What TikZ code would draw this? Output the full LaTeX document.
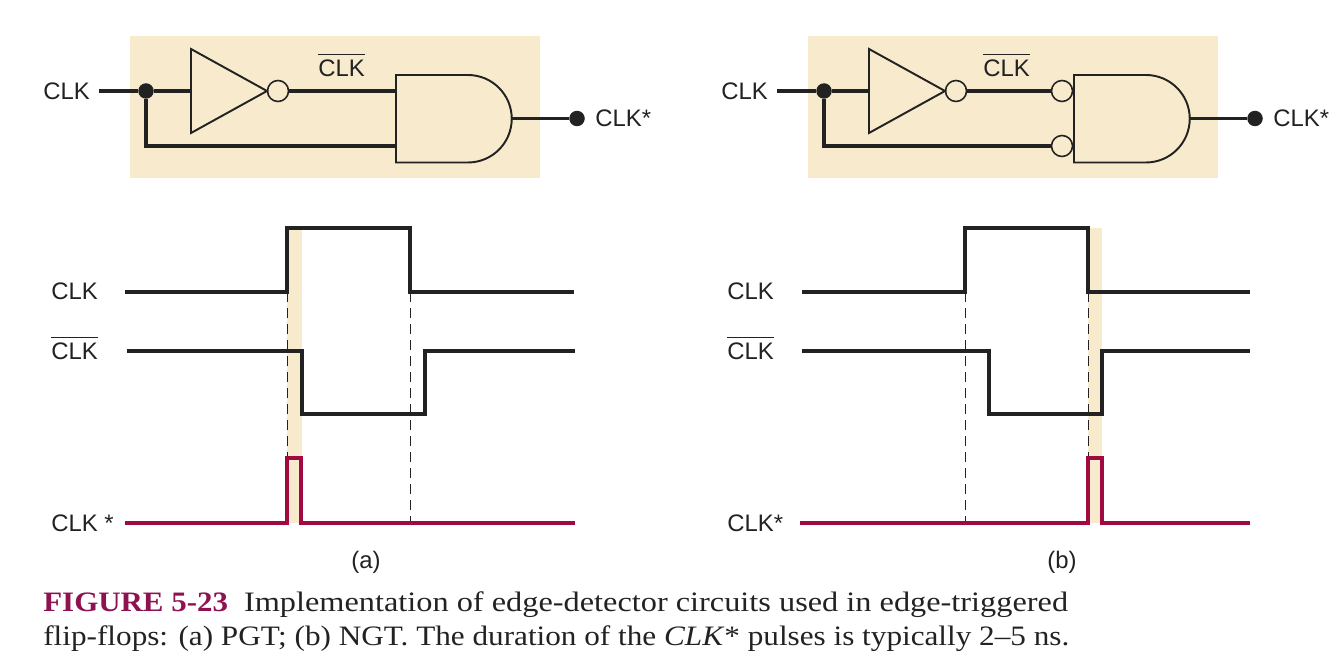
\documentclass[tikz,border=0pt]{standalone}
\usepackage{fontspec}
\setmainfont{Liberation Sans}
\newfontfamily\capfont[FakeStretch=1.11]{Liberation Serif}
\newfontfamily\capwide[FakeStretch=1.15]{Liberation Serif}
\newfontfamily\caphead[FakeStretch=1.1]{Liberation Serif Bold}
\newcommand{\clkbar}{$\overline{\mbox{CLK}\rule{0pt}{11pt}}$}
\definecolor{shade}{HTML}{F8EBCD}
\definecolor{pulse}{HTML}{A00A40}
\definecolor{capred}{HTML}{8E1150}
\definecolor{ink}{HTML}{222222}
\begin{document}
\begin{tikzpicture}[x=0.02cm, y=-0.02cm, font=\fontsize{13.6}{16}\selectfont, text=ink]
	\tikzstyle{label} = [inner sep=0pt, anchor=west]
	\tikzstyle{band} = [fill=shade, draw=none]
	\tikzstyle{gate} = [draw=ink, line width=1.1pt, fill=shade, line join=miter]
	\tikzstyle{wire} = [draw=ink, line width=1.9pt]
	\tikzstyle{bubble} = [circle, draw=ink, line width=0.9pt, fill=shade, minimum size=0.42cm, inner sep=0pt]
	\tikzstyle{dot} = [circle, fill=ink, minimum size=0.31cm, inner sep=0pt]
	\tikzstyle{wave} = [draw=ink, line width=2pt, line join=miter]
	\tikzstyle{strobe} = [draw=pulse, line width=2pt, line join=miter]
	\tikzstyle{guide} = [draw=ink, line width=0.5pt, dash pattern=on 0.2cm off 0.12cm]
	\useasboundingbox (0,0) rectangle (1339,672);

	% Shaded backgrounds
	\fill[band] (130,36) rectangle (540,178);
	\fill[band] (808,36) rectangle (1218,178);
	\fill[band] (287,228) rectangle (302,523);
	\fill[band] (1088,228) rectangle (1102,523);

	% Define nodes (a)
	\node[label] (CLKa) at (43,91) {CLK};
	\node[dot] (Ja) at (146,91) {};
	\node[bubble] (Ba) at (278,91) {};
	\node[dot] (Oa) at (577,118.5) {};
	\node[label] (OUTa) at (595,118) {CLK*};
	\node[label] (BARa) at (318,65) {\clkbar};
	\coordinate (STARTa) at (99,91);
	\coordinate (INVa) at (191,91);
	\coordinate (TOPa) at (396,91);
	\coordinate (LOWa) at (396,146);
	\coordinate (CORNa) at (146,146);
	\coordinate (ANDa) at (512,118.5);

	% Draw edges (a)
	\draw[wire] (STARTa) -- (Ja);
	\draw[wire] (Ja) -- (INVa);
	\draw[wire] (Ba) -- (TOPa);
	\draw[wire] (Ja) -- (CORNa) -- (LOWa);
	\draw[wire] (ANDa) -- (Oa);

	% Gates (a)
	\draw[gate] (191,49) -- (191,133) -- (267,91) -- cycle;
	\draw[gate] (396,75) -- (468,75) arc[start angle=90, end angle=-90, radius=0.875cm] -- (396,162.5) -- cycle;

	% Define nodes (b)
	\node[label] (CLKb) at (721,91) {CLK};
	\node[dot] (Jb) at (824,91) {};
	\node[bubble] (Bb) at (956,91) {};
	\node[bubble] (Pb) at (1062,91) {};
	\node[bubble] (Qb) at (1062,146) {};
	\node[dot] (Ob) at (1255,118.5) {};
	\node[label] (OUTb) at (1273,118) {CLK*};
	\node[label] (BARb) at (983,65) {\clkbar};
	\coordinate (STARTb) at (777,91);
	\coordinate (INVb) at (869,91);
	\coordinate (CORNb) at (824,146);
	\coordinate (ANDb) at (1190,118.5);

	% Draw edges (b)
	\draw[wire] (STARTb) -- (Jb);
	\draw[wire] (Jb) -- (INVb);
	\draw[wire] (Bb) -- (Pb);
	\draw[wire] (Jb) -- (CORNb) -- (Qb);
	\draw[wire] (ANDb) -- (Ob);

	% Gates (b)
	\draw[gate] (869,49) -- (869,133) -- (945,91) -- cycle;
	\draw[gate] (1074,75) -- (1146,75) arc[start angle=90, end angle=-90, radius=0.875cm] -- (1074,162.5) -- cycle;

	% Waveforms (a)
	\draw[guide] (287,292) -- (287,458);
	\draw[guide] (410,292) -- (410,523);
	\draw[wave] (125,292) -- (287,292) -- (287,228) -- (410,228) -- (410,292) -- (574,292);
	\draw[wave] (127,351) -- (302,351) -- (302,414) -- (425,414) -- (425,351) -- (575,351);
	\draw[strobe] (125,523) -- (287,523) -- (287,458) -- (301,458) -- (301,523) -- (575,523);
	\node[label] (Wa) at (51,291) {CLK};
	\node[label] (Xa) at (51,348) {\clkbar};
	\node[label] (Ya) at (51,523) {CLK *};
	\node (TAGa) at (366,562) {(a)};

	% Waveforms (b)
	\draw[guide] (965,292) -- (965,523);
	\draw[guide] (1088,292) -- (1088,458);
	\draw[wave] (802,292) -- (965,292) -- (965,228) -- (1088,228) -- (1088,292) -- (1250,292);
	\draw[wave] (802,351) -- (989,351) -- (989,414) -- (1102,414) -- (1102,351) -- (1250,351);
	\draw[strobe] (800,523) -- (1088,523) -- (1088,458) -- (1102,458) -- (1102,523) -- (1250,523);
	\node[label] (Wb) at (727,291) {CLK};
	\node[label] (Xb) at (727,348) {\clkbar};
	\node[label] (Yb) at (727,523) {CLK*};
	\node (TAGb) at (1062,562) {(b)};

	% Caption
	\node[label, anchor=base west] (CAPa) at (43,611) {\fontsize{16}{19}\selectfont\textcolor{capred}{\caphead FIGURE 5-23}\hspace{0.32cm}\capwide Implementation of edge-detector circuits used in edge-triggered};
	\node[label, anchor=base west] (CAPb) at (43,645) {\fontsize{16}{19}\selectfont\capfont flip-flops: (a) PGT; (b) NGT. The duration of the \textit{CLK}* pulses is typically 2–5 ns.};
\end{tikzpicture}
\end{document}
